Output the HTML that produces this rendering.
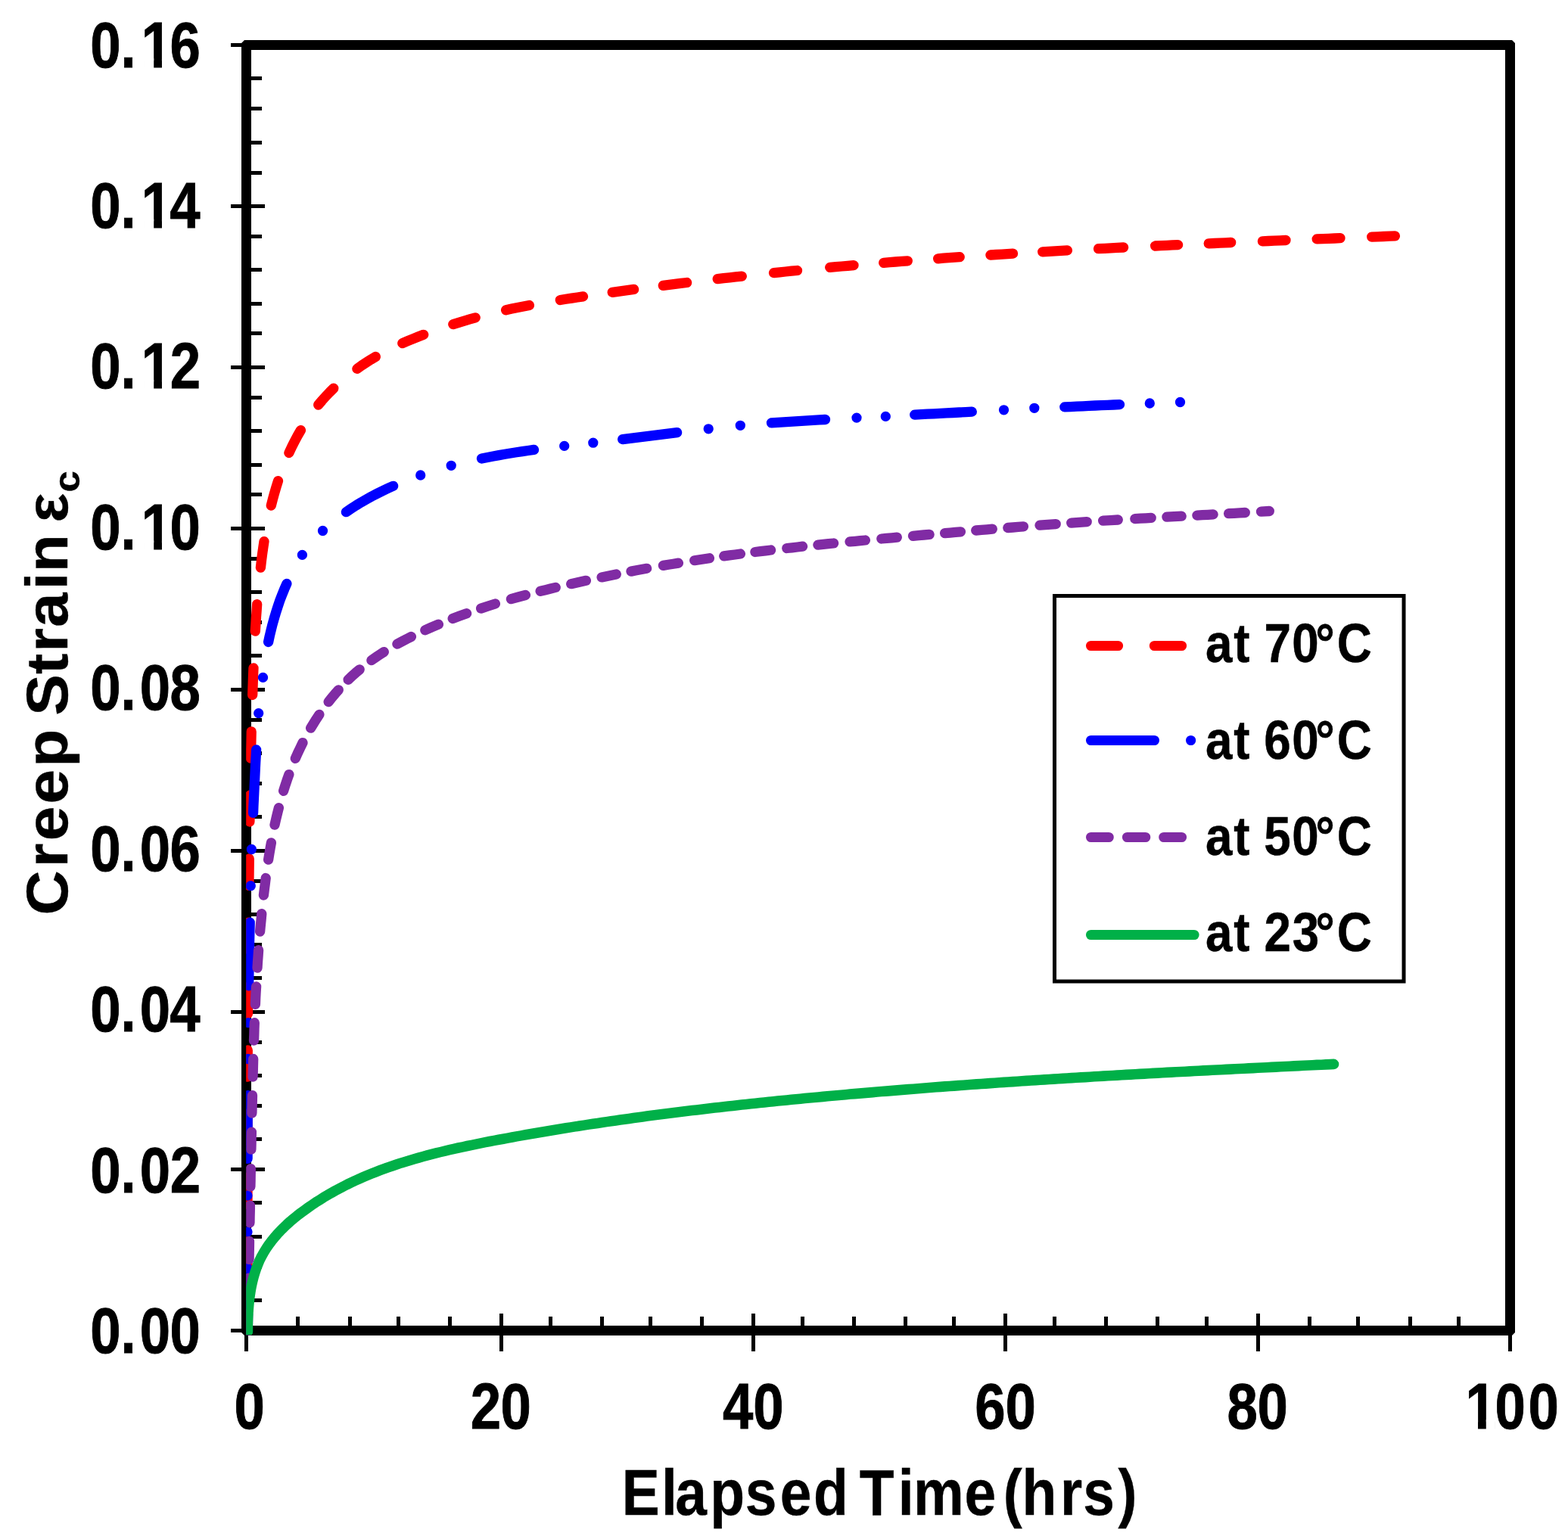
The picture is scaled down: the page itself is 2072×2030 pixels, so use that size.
<!DOCTYPE html>
<html lang="en"><head><meta charset="utf-8"><title>Creep Strain vs Elapsed Time</title>
<style>html,body{margin:0;padding:0;background:#fff;}body{width:2072px;height:2030px;overflow:hidden;}svg{display:block;}text{font-family:"Liberation Sans",Arial,Helvetica,sans-serif;font-weight:bold;fill:#000;font-kerning:none;white-space:pre;}.tk{stroke:#000;stroke-width:0.9px;}.lg{stroke:#000;stroke-width:0.5px;}.tt{stroke:#000;stroke-width:0.4px;}</style></head><body>
<svg width="2072" height="2030" viewBox="0 0 2072 2030">
<rect x="0" y="0" width="2072" height="2030" fill="#fff"/>
<g stroke="#000" fill="none">
<path fill="#000" stroke="none" fill-rule="evenodd" d="M323 53H1998L2002 57V1761L1998 1765H323L319 1761V57Z M332 66V1752H1989V66Z"/>
<path stroke-width="5" d="M305 59.5H350 M305 272.5H350 M305 485.5H350 M305 698.5H350 M305 911.5H350 M305 1124.5H350 M305 1337.5H350 M305 1545.5H350 M305 1758.5H350"/>
<path stroke-width="5" d="M326 103.5H346 M326 143.5H346 M326 188.5H346 M326 228.5H346 M326 312.5H346 M326 356.5H346 M326 401.5H346 M326 440.5H346 M326 525.5H346 M326 569.5H346 M326 614.5H346 M326 653.5H346 M326 738.5H346 M326 782.5H346 M326 822.5H346 M326 866.5H346 M326 951.5H346 M326 995.5H346 M326 1035.5H346 M326 1079.5H346 M326 1164.5H346 M326 1208.5H346 M326 1248.5H346 M326 1292.5H346 M326 1377.5H346 M326 1421.5H346 M326 1461.5H346 M326 1505.5H346 M326 1589.5H346 M326 1634.5H346 M326 1674.5H346 M326 1718.5H346"/>
<path stroke-width="5" d="M325.5 1736V1786 M662.5 1736V1786 M995.5 1736V1786 M1328.5 1736V1786 M1662.5 1736V1786 M1995.5 1736V1786"/>
<path stroke-width="5" d="M393.5 1740V1758 M462.5 1740V1758 M526.5 1740V1758 M594.5 1740V1758 M727.5 1740V1758 M795.5 1740V1758 M859.5 1740V1758 M927.5 1740V1758 M1060.5 1740V1758 M1128.5 1740V1758 M1196.5 1740V1758 M1260.5 1740V1758 M1393.5 1740V1758 M1461.5 1740V1758 M1529.5 1740V1758 M1594.5 1740V1758 M1730.5 1740V1758 M1794.5 1740V1758 M1863.5 1740V1758 M1927.5 1740V1758"/>
</g>
<defs><clipPath id="plot"><rect x="325.2" y="40" width="1700" height="1724.3"/></clipPath></defs>
<g clip-path="url(#plot)" fill="none" stroke-linecap="round" stroke-linejoin="round" stroke-width="13.3">
<path stroke="#ff0000" d="M327.0 1759.5 L327.0 1750.7 L327.0 1741.9 L327.0 1733.1 L327.0 1724.2 M327.0 1675.4 L327.0 1666.6 L327.0 1657.8 L327.0 1649.0 L327.0 1640.2 M327.0 1591.3 L327.0 1582.5 L327.0 1573.7 L327.0 1564.9 L327.0 1556.1 M327.0 1507.3 L327.0 1498.5 L327.0 1489.7 L327.0 1480.9 L327.0 1472.1 M327.1 1423.1 L327.2 1414.3 L327.2 1405.5 L327.2 1396.7 L327.3 1387.9 M327.5 1339.8 L327.5 1330.9 L327.6 1322.1 L327.7 1313.3 L327.7 1304.5 M328.1 1254.3 L328.1 1245.5 L328.2 1236.7 L328.3 1227.9 L328.4 1219.1 M328.9 1170.3 L329.0 1161.5 L329.1 1152.6 L329.2 1143.7 L329.3 1134.9 M329.9 1086.0 L330.1 1077.3 L330.2 1068.5 L330.3 1059.7 L330.5 1051.0 M331.4 1002.1 L331.6 993.3 L331.8 984.5 L332.0 975.7 L332.2 966.9 M333.7 918.5 L334.0 909.5 L334.3 900.6 L334.6 891.7 L335.0 882.9 M337.3 834.2 L337.9 825.3 L338.4 816.4 L339.1 807.5 L339.7 798.6 M344.4 750.2 L345.4 741.6 L346.5 732.9 L347.7 724.3 L349.0 715.6 M358.3 668.1 L360.4 659.9 L362.6 651.8 L365.0 643.7 L367.5 635.6 M381.9 598.5 L385.5 590.8 L389.3 583.3 L393.2 575.9 L397.4 568.6 M420.7 535.1 L425.4 529.4 L430.4 523.9 L435.5 518.5 L440.8 513.2 M471.9 487.3 L477.8 483.1 L483.9 479.1 L490.1 475.2 L496.3 471.5 M531.8 453.7 L538.7 450.7 L545.6 447.8 L552.6 445.0 L559.7 442.3 M598.8 428.6 L606.1 426.3 L613.5 424.1 L620.8 421.9 L628.2 419.8 M668.6 409.8 L676.2 408.1 L683.9 406.5 L691.6 405.0 L699.4 403.5 M740.3 396.5 L747.8 395.3 L755.4 394.1 L763.0 393.0 L770.5 391.9 M809.2 386.3 L816.3 385.3 L823.4 384.4 L830.5 383.4 L837.6 382.4 M876.3 377.4 L884.1 376.4 L891.9 375.4 L899.7 374.4 L907.6 373.5 M948.2 368.7 L956.2 367.7 L964.2 366.8 L972.2 365.9 L980.3 365.1 M1022.5 360.6 L1030.2 359.8 L1038.0 359.0 L1045.8 358.2 L1053.5 357.5 M1096.7 353.4 L1104.5 352.7 L1112.3 352.0 L1120.2 351.3 L1128.0 350.6 M1167.7 347.3 L1175.6 346.6 L1183.5 346.0 L1191.4 345.4 L1199.3 344.8 M1239.6 341.8 L1246.7 341.2 L1253.8 340.7 L1261.0 340.2 L1268.2 339.7 M1308.9 337.0 L1316.3 336.5 L1323.7 336.1 L1331.1 335.6 L1338.5 335.1 M1377.7 332.8 L1385.8 332.3 L1394.0 331.8 L1402.2 331.4 L1410.4 330.9 M1451.5 328.7 L1459.7 328.3 L1468.0 327.8 L1476.3 327.4 L1484.6 327.0 M1526.6 325.0 L1534.0 324.6 L1541.5 324.3 L1549.0 323.9 L1556.6 323.6 M1597.2 321.8 L1604.6 321.5 L1612.0 321.1 L1619.4 320.8 L1626.7 320.5 M1668.4 318.8 L1676.0 318.5 L1683.7 318.2 L1691.3 317.8 L1699.0 317.5 M1740.2 315.9 L1748.0 315.6 L1755.7 315.3 L1763.4 315.0 L1771.0 314.7 M1812.7 313.1 L1820.4 312.8 L1828.2 312.5 L1835.9 312.2 L1843.4 311.9"/>
<path stroke="#0000ff" d="M327.0 1759.6 L327.0 1751.3 L327.0 1742.9 L327.0 1734.6 L327.0 1726.2 L327.0 1717.9 L327.0 1709.5 L327.0 1701.1 L327.0 1692.8 L327.0 1684.4 L327.0 1676.1 M327.0 1628.0 L327.0 1628.0 M327.0 1580.0 L327.0 1580.0 M327.1 1531.3 L327.1 1523.0 L327.1 1514.6 L327.1 1506.2 L327.2 1497.9 L327.2 1489.5 L327.2 1481.1 L327.3 1472.8 L327.3 1464.4 L327.3 1456.0 L327.4 1447.7 M327.5 1399.5 L327.5 1399.5 M328.0 1351.6 L328.0 1351.6 M328.7 1302.8 L328.8 1294.5 L328.9 1286.1 L329.1 1277.8 L329.2 1269.4 L329.3 1261.0 L329.5 1252.7 L329.6 1244.3 L329.8 1236.0 L330.0 1227.6 L330.2 1219.2 M331.3 1170.7 L331.3 1170.7 M332.4 1122.5 L332.4 1122.5 M334.6 1074.4 L334.9 1066.1 L335.3 1057.7 L335.7 1049.4 L336.1 1041.0 L336.5 1032.6 L336.9 1024.3 L337.3 1015.9 L337.7 1007.6 L338.2 999.2 L338.6 990.9 M341.7 942.6 L341.7 942.6 M347.5 895.4 L347.5 895.4 M354.6 848.5 L356.3 840.5 L358.2 832.6 L360.2 824.7 L362.4 816.9 L364.7 809.1 L367.2 801.4 L369.8 793.7 L372.7 786.2 L375.7 778.7 L378.9 771.4 M399.4 733.4 L399.4 733.4 M426.5 701.5 L426.5 701.5 M457.4 676.7 L463.9 672.3 L470.5 668.0 L477.2 663.9 L484.1 659.9 L491.0 656.1 L498.0 652.5 L505.1 649.0 L512.3 645.6 L519.6 642.3 M555.7 628.0 L555.7 628.0 M596.2 615.3 L596.2 615.3 M636.5 606.0 L644.2 604.5 L651.8 603.0 L659.4 601.6 L667.1 600.3 L674.7 599.0 L682.4 597.8 L690.1 596.6 L697.8 595.5 L705.5 594.4 M745.7 589.4 L745.7 589.4 M783.8 585.2 L783.8 585.2 M822.7 580.6 L830.7 579.6 L838.7 578.6 L846.7 577.7 L854.7 576.7 L862.7 575.7 L870.7 574.7 L878.7 573.6 L886.7 572.6 L894.6 571.6 M936.2 566.8 L936.2 566.8 M978.3 562.3 L978.3 562.3 M1019.5 558.9 L1027.4 558.3 L1035.3 557.8 L1043.2 557.3 L1051.1 556.8 L1059.0 556.3 L1066.9 555.8 L1074.8 555.4 L1082.7 554.9 L1090.5 554.5 M1132.0 552.1 L1132.0 552.1 M1170.3 550.4 L1170.3 550.4 M1208.7 548.1 L1217.1 547.7 L1225.5 547.2 L1233.9 546.8 L1242.3 546.3 L1250.7 545.9 L1259.1 545.5 L1267.5 545.0 L1275.9 544.6 L1284.3 544.1 M1326.5 541.8 L1326.5 541.8 M1366.8 539.3 L1366.8 539.3 M1406.8 537.9 L1414.8 537.6 L1422.9 537.2 L1431.0 536.8 L1439.1 536.4 L1447.2 536.0 L1455.3 535.7 L1463.4 535.3 L1471.5 535.0 L1479.5 534.6 M1519.3 533.0 L1519.3 533.0 M1559.5 531.5 L1559.5 531.5"/>
<path stroke="#802ba4" d="M327.3 1759.3 L327.5 1751.8 L327.6 1744.2 L327.7 1736.7 M328.2 1712.3 L328.3 1704.6 L328.5 1696.8 L328.6 1689.1 M329.1 1664.4 L329.2 1656.5 L329.4 1648.5 L329.5 1640.5 M330.0 1615.9 L330.1 1608.3 L330.3 1600.7 L330.4 1593.1 M330.9 1568.1 L331.1 1560.3 L331.2 1552.4 L331.4 1544.6 M331.9 1519.2 L332.1 1511.5 L332.2 1503.8 L332.4 1496.1 M332.9 1471.1 L333.1 1463.3 L333.3 1455.5 L333.5 1447.7 M334.1 1423.1 L334.3 1415.2 L334.5 1407.3 L334.7 1399.5 M335.5 1375.2 L335.8 1367.4 L336.0 1359.5 L336.3 1351.7 M337.4 1327.4 L337.7 1319.6 L338.1 1311.7 L338.6 1303.9 M340.0 1279.2 L340.5 1271.4 L341.1 1263.5 L341.6 1255.7 M343.6 1231.1 L344.3 1223.3 L345.1 1215.5 L345.8 1207.7 M348.4 1183.1 L349.3 1175.6 L350.3 1168.0 L351.2 1160.5 M354.6 1136.2 L355.8 1128.7 L357.1 1121.2 L358.4 1113.8 M363.0 1090.1 L364.7 1082.6 L366.5 1075.1 L368.4 1067.6 M374.6 1045.3 L376.9 1038.1 L379.3 1030.8 L381.9 1023.6 M390.3 1002.4 L393.4 995.4 L396.7 988.5 L400.0 981.6 M410.6 962.2 L414.3 956.2 L418.0 950.3 L421.9 944.4 M434.1 927.6 L438.4 922.2 L442.8 916.9 L447.3 911.8 M460.1 898.3 L465.0 893.7 L470.0 889.2 L475.2 884.8 M490.9 872.6 L499.0 867.0 L507.3 861.6 M524.9 851.2 L531.0 847.9 L537.2 844.6 L543.4 841.5 M561.8 832.8 L570.5 828.9 L579.4 825.2 M598.2 817.5 L607.4 814.1 L616.6 810.7 M635.6 804.1 L645.0 801.0 L654.4 798.0 M675.4 791.7 L684.9 789.0 L694.4 786.5 M714.1 781.3 L720.8 779.7 L727.5 778.0 L734.2 776.4 M754.7 771.7 L761.3 770.2 L767.8 768.7 L774.4 767.3 M795.1 762.9 L804.7 760.9 L814.3 759.0 M834.0 755.1 L840.9 753.8 L847.8 752.5 L854.6 751.3 M876.4 747.4 L883.1 746.3 L889.7 745.2 L896.4 744.1 M917.7 740.7 L927.5 739.2 L937.4 737.7 M956.7 734.9 L964.0 733.9 L971.2 733.0 L978.4 732.0 M997.9 729.5 L1004.8 728.7 L1011.7 727.8 L1018.6 727.0 M1039.8 724.5 L1046.7 723.8 L1053.7 723.0 L1060.6 722.2 M1080.9 720.1 L1087.8 719.4 L1094.7 718.7 L1101.6 718.0 M1123.0 715.9 L1129.8 715.3 L1136.6 714.6 L1143.4 714.0 M1164.8 712.0 L1171.6 711.4 L1178.5 710.8 L1185.3 710.2 M1206.5 708.3 L1213.7 707.6 L1220.9 707.0 L1228.1 706.4 M1248.6 704.6 L1255.5 704.0 L1262.5 703.4 L1269.4 702.8 M1289.7 701.0 L1296.9 700.4 L1304.1 699.8 L1311.3 699.2 M1331.8 697.5 L1338.6 697.0 L1345.5 696.4 L1352.4 695.9 M1374.0 694.2 L1381.0 693.6 L1388.1 693.1 L1395.2 692.6 M1415.7 691.1 L1422.5 690.6 L1429.4 690.1 L1436.2 689.6 M1457.6 688.2 L1467.4 687.6 L1477.3 687.0 M1499.8 685.6 L1506.9 685.2 L1514.1 684.8 L1521.2 684.4 M1541.9 683.2 L1551.5 682.7 L1561.2 682.2 M1581.9 681.1 L1588.9 680.7 L1596.0 680.3 L1603.1 679.9 M1623.6 678.7 L1630.8 678.3 L1638.1 677.9 L1645.3 677.5 M1666.5 676.2 L1677.3 675.5"/>
<path stroke="#00b048" stroke-width="13.6" d="M327.4 1760.1 L327.4 1754.3 L327.4 1748.4 L327.6 1742.4 L327.9 1736.4 L328.3 1730.3 L328.8 1724.2 L329.4 1718.1 L330.2 1712.1 L331.1 1706.0 L332.2 1700.0 L333.5 1694.0 L335.0 1688.1 L336.7 1682.3 L338.6 1676.6 L340.8 1671.0 L343.1 1665.5 L345.8 1660.2 L348.7 1655.0 L351.8 1650.0 L355.1 1645.1 L358.7 1640.3 L362.4 1635.7 L366.3 1631.2 L370.4 1626.8 L374.6 1622.6 L379.0 1618.4 L383.4 1614.4 L388.0 1610.5 L392.7 1606.7 L397.5 1603.0 L402.4 1599.4 L407.3 1595.9 L412.2 1592.5 L417.2 1589.1 L422.3 1585.9 L427.3 1582.7 L432.5 1579.7 L437.6 1576.7 L442.8 1573.8 L448.1 1571.0 L453.3 1568.2 L458.6 1565.5 L464.0 1562.9 L469.3 1560.4 L474.7 1558.0 L480.2 1555.6 L485.6 1553.3 L491.1 1551.0 L496.7 1548.8 L502.2 1546.7 L507.8 1544.6 L513.4 1542.6 L519.0 1540.7 L524.7 1538.8 L530.3 1536.9 L536.0 1535.2 L541.8 1533.4 L547.5 1531.7 L553.2 1530.1 L559.0 1528.5 L564.8 1526.9 L570.6 1525.4 L576.4 1523.9 L582.3 1522.5 L588.1 1521.1 L594.0 1519.7 L599.8 1518.3 L605.7 1517.0 L611.6 1515.8 L617.5 1514.5 L623.4 1513.3 L629.3 1512.1 L635.3 1510.9 L641.2 1509.7 L647.1 1508.5 L653.1 1507.4 L659.0 1506.3 L664.9 1505.2 L670.9 1504.1 L676.8 1503.0 L682.7 1501.9 L688.7 1500.9 L694.6 1499.8 L700.5 1498.8 L706.5 1497.7 L712.4 1496.7 L718.4 1495.7 L724.3 1494.7 L730.2 1493.7 L736.2 1492.7 L742.1 1491.8 L748.1 1490.8 L754.0 1489.9 L760.0 1488.9 L765.9 1488.0 L771.8 1487.1 L777.8 1486.1 L783.7 1485.2 L789.7 1484.4 L795.6 1483.5 L801.6 1482.6 L807.5 1481.7 L813.5 1480.9 L819.4 1480.0 L825.4 1479.2 L831.3 1478.4 L837.2 1477.5 L843.2 1476.7 L849.1 1475.9 L855.1 1475.1 L861.0 1474.3 L867.0 1473.6 L872.9 1472.8 L878.9 1472.0 L884.9 1471.3 L890.8 1470.5 L896.8 1469.8 L902.7 1469.0 L908.7 1468.3 L914.6 1467.6 L920.6 1466.9 L926.5 1466.2 L932.5 1465.5 L938.4 1464.8 L944.4 1464.1 L950.3 1463.4 L956.3 1462.7 L962.3 1462.1 L968.2 1461.4 L974.2 1460.7 L980.1 1460.1 L986.1 1459.5 L992.1 1458.8 L998.0 1458.2 L1004.0 1457.6 L1009.9 1456.9 L1015.9 1456.3 L1021.9 1455.7 L1027.8 1455.1 L1033.8 1454.5 L1039.7 1453.9 L1045.7 1453.3 L1051.7 1452.8 L1057.6 1452.2 L1063.6 1451.6 L1069.6 1451.0 L1075.5 1450.5 L1081.5 1449.9 L1087.5 1449.4 L1093.4 1448.8 L1099.4 1448.3 L1105.4 1447.7 L1111.3 1447.2 L1117.3 1446.7 L1123.3 1446.1 L1129.2 1445.6 L1135.2 1445.1 L1141.2 1444.6 L1147.1 1444.1 L1153.1 1443.6 L1159.1 1443.0 L1165.1 1442.5 L1171.0 1442.1 L1177.0 1441.6 L1183.0 1441.1 L1188.9 1440.6 L1194.9 1440.1 L1200.9 1439.6 L1206.9 1439.2 L1212.8 1438.7 L1218.8 1438.2 L1224.8 1437.8 L1230.8 1437.3 L1236.7 1436.8 L1242.7 1436.4 L1248.7 1435.9 L1254.7 1435.5 L1260.7 1435.1 L1266.6 1434.6 L1272.6 1434.2 L1278.6 1433.8 L1284.6 1433.3 L1290.5 1432.9 L1296.5 1432.5 L1302.5 1432.1 L1308.5 1431.6 L1314.5 1431.2 L1320.5 1430.8 L1326.4 1430.4 L1332.4 1430.0 L1338.4 1429.6 L1344.4 1429.2 L1350.4 1428.8 L1356.3 1428.4 L1362.3 1428.0 L1368.3 1427.6 L1374.3 1427.3 L1380.3 1426.9 L1386.3 1426.5 L1392.3 1426.1 L1398.2 1425.8 L1404.2 1425.4 L1410.2 1425.0 L1416.2 1424.6 L1422.2 1424.3 L1428.2 1423.9 L1434.2 1423.6 L1440.2 1423.2 L1446.2 1422.8 L1452.1 1422.5 L1458.1 1422.1 L1464.1 1421.8 L1470.1 1421.5 L1476.1 1421.1 L1482.1 1420.8 L1488.1 1420.4 L1494.1 1420.1 L1500.1 1419.8 L1506.1 1419.4 L1512.1 1419.1 L1518.1 1418.8 L1524.0 1418.4 L1530.0 1418.1 L1536.0 1417.8 L1542.0 1417.4 L1548.0 1417.1 L1554.0 1416.8 L1560.0 1416.5 L1566.0 1416.2 L1572.0 1415.9 L1578.0 1415.5 L1584.0 1415.2 L1590.0 1414.9 L1596.0 1414.6 L1602.0 1414.3 L1608.0 1414.0 L1614.0 1413.7 L1620.0 1413.4 L1626.0 1413.1 L1632.0 1412.8 L1638.0 1412.5 L1644.0 1412.2 L1650.0 1411.9 L1656.0 1411.6 L1662.0 1411.3 L1668.0 1411.0 L1674.0 1410.7 L1680.0 1410.4 L1686.0 1410.1 L1692.0 1409.8 L1698.0 1409.5 L1704.0 1409.2 L1710.0 1408.9 L1716.1 1408.6 L1722.1 1408.3 L1728.1 1408.0 L1734.1 1407.7 L1740.1 1407.4 L1746.1 1407.2 L1752.1 1406.9 L1758.1 1406.6 L1762.5 1406.4"/>
</g>
<rect x="1393.5" y="787.5" width="461.5" height="509.5" fill="#fff" stroke="#000" stroke-width="5"/>
<g fill="none" stroke-linecap="round" stroke-width="13.2">
<path stroke="#ff0000" d="M1441.6 853.5H1477.5 M1525.4 853.5H1561.5"/>
<path stroke="#0000ff" d="M1441.6 978.5H1525.4 M1573.6 978.5h0.01"/>
<path stroke="#802ba4" d="M1441.6 1106.5H1465.2 M1489.5 1106.5H1513.7 M1537.8 1106.5H1561.5"/>
<path stroke="#00b048" d="M1441.6 1235.5H1578"/>
</g>
<text class="tk" transform="translate(0 88.50) scale(0.8480 1)" font-size="85.50" x="140.56 188.05 220.17 264.76">0.16</text>
<text class="tk" transform="translate(0 300.95) scale(0.8480 1)" font-size="85.50" x="140.56 188.05 220.17 264.37">0.14</text>
<text class="tk" transform="translate(0 513.40) scale(0.8480 1)" font-size="85.50" x="140.56 188.05 220.17 265.02">0.12</text>
<text class="tk" transform="translate(0 725.85) scale(0.8480 1)" font-size="85.50" x="140.56 188.05 220.17 264.85">0.10</text>
<text class="tk" transform="translate(0 938.30) scale(0.8480 1)" font-size="85.50" x="140.56 188.05 217.91 264.74">0.08</text>
<text class="tk" transform="translate(0 1150.75) scale(0.8480 1)" font-size="85.50" x="140.56 188.05 217.91 264.76">0.06</text>
<text class="tk" transform="translate(0 1363.20) scale(0.8480 1)" font-size="85.50" x="140.56 188.05 217.91 264.37">0.04</text>
<text class="tk" transform="translate(0 1575.65) scale(0.8480 1)" font-size="85.50" x="140.56 188.05 217.91 265.02">0.02</text>
<text class="tk" transform="translate(0 1788.10) scale(0.8480 1)" font-size="85.50" x="140.56 188.05 217.91 264.85">0.00</text>
<text class="tk" transform="translate(0 1887.55) scale(0.8480 1)" font-size="85.50" x="364.97">0</text>
<text class="tk" transform="translate(0 1887.55) scale(0.8480 1)" font-size="85.50" x="733.06 779.94">20</text>
<text class="tk" transform="translate(0 1887.55) scale(0.8480 1)" font-size="85.50" x="1126.04 1173.75">40</text>
<text class="tk" transform="translate(0 1887.55) scale(0.8480 1)" font-size="85.50" x="1519.13 1566.50">60</text>
<text class="tk" transform="translate(0 1887.55) scale(0.8480 1)" font-size="85.50" x="1912.03 1959.19">80</text>
<text class="tk" transform="translate(0 1887.55) scale(0.8480 1)" font-size="85.50" x="2283.61 2329.47 2381.36">100</text>
<text class="tt" transform="translate(0 2001.90) scale(0.8820 1)" font-size="85.00" x="931.81 991.01 1011.75 1063.68 1116.58 1168.62 1218.92 1270.84 1287.68 1345.55 1368.56 1444.92 1492.19 1503.05 1531.13 1588.56 1622.76 1675.28">Elapsed Time (hrs)</text>
<text class="tt" transform="translate(89.10 1210.00) rotate(-90) scale(0.9750 0.9200)" font-size="84" x="0.43 65.47 101.36 151.31 201.20 252.51 271.08 327.14 357.16 390.79 441.55 465.31 516.62 532.75">Creep Strain ε<tspan x="573.80" dy="16.74" font-size="52">c</tspan></text>
<text class="lg" transform="translate(0 874.90) scale(0.8850 1)" font-size="72.00" x="1800.11 1842.14 1866.11 1887.47 1929.13 1964.21 1996.39">at 70°C</text>
<text class="lg" transform="translate(0 1003.00) scale(0.8850 1)" font-size="72.00" x="1800.11 1842.14 1866.11 1887.42 1929.13 1964.21 1996.39">at 60°C</text>
<text class="lg" transform="translate(0 1129.80) scale(0.8850 1)" font-size="72.00" x="1800.11 1842.14 1866.11 1887.33 1929.13 1964.21 1996.39">at 50°C</text>
<text class="lg" transform="translate(0 1257.20) scale(0.8850 1)" font-size="72.00" x="1800.11 1842.14 1866.11 1887.63 1929.55 1964.21 1996.39">at 23°C</text>
<path fill="#fff" d="M190.07 77.27H203.23V90.00H190.07Z M213.97 77.27H226.01V90.00H213.97Z"/>
<path fill="#fff" d="M190.07 289.72H203.23V302.45H190.07Z M213.97 289.72H226.01V302.45H213.97Z"/>
<path fill="#fff" d="M190.07 502.17H203.23V514.90H190.07Z M213.97 502.17H226.01V514.90H213.97Z"/>
<path fill="#fff" d="M190.07 714.62H203.23V727.35H190.07Z M213.97 714.62H226.01V727.35H213.97Z"/>
<path fill="#fff" d="M1939.87 1876.32H1953.03V1889.05H1939.87Z M1963.77 1876.32H1975.81V1889.05H1963.77Z"/>
</svg></body></html>
